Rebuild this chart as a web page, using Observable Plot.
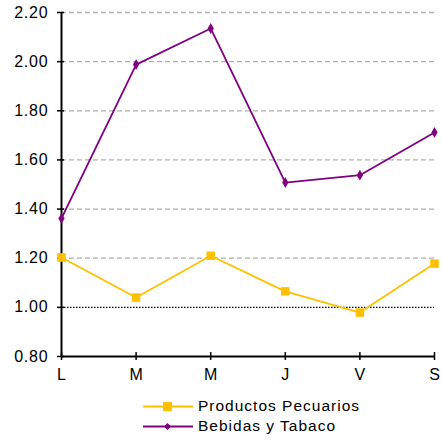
<!DOCTYPE html>
<html>
<head>
<meta charset="utf-8">
<script src="https://cdn.jsdelivr.net/npm/d3@7"></script>
<script src="https://cdn.jsdelivr.net/npm/@observablehq/plot@0.6"></script>
<style>
  html, body { margin: 0; padding: 0; background: #fff; }
  body { width: 442px; font-family: "Liberation Sans", Arial, sans-serif; }
  #legend { margin-top: 11px; padding-left: 143px; font-size: 15.5px; letter-spacing: 1px; color: #000; }
  .item { display: flex; align-items: center; height: 20px; }
  .item svg { margin-right: 5px; }
  #chart svg g[aria-label="y-axis tick label"] text { letter-spacing: 0.8px; }
</style>
</head>
<body>
<div id="chart"></div>
<div id="legend"></div>
<script>
const days = ["L", "M", "M", "J", "V", "S"];
const pecuarios = [1.203, 1.04, 1.21, 1.065, 0.979, 1.178];
const bebidas = [1.362, 1.988, 2.135, 1.508, 1.538, 1.712];
const yTicks = [0.8, 1.0, 1.2, 1.4, 1.6, 1.8, 2.0, 2.2];
const dashedGrid = [1.2, 1.4, 1.6, 1.8, 2.0, 2.2];

const colPec = "#FFC000";
const colBeb = "#800080";

const idx = days.map((d, i) => i);
const dataPec = idx.map(i => ({x: i, y: pecuarios[i]}));
const dataBeb = idx.map(i => ({x: i, y: bebidas[i]}));

const chart = Plot.plot({
  width: 442,
  height: 385,
  marginLeft: 61,
  marginRight: 8,
  marginTop: 12,
  marginBottom: 29,
  style: {fontFamily: "Liberation Sans, Arial, sans-serif", fontSize: "16px", color: "#000", background: "#fff", overflow: "visible"},
  x: {type: "linear", domain: [0, 5]},
  y: {domain: [0.8, 2.2]},
  marks: [
    Plot.ruleY(dashedGrid, {stroke: "#b0b0b0", strokeWidth: 1.3, strokeDasharray: "5,3"}),
    Plot.ruleY([1.0], {stroke: "#000", strokeWidth: 1.2, strokeDasharray: "1.5,1.5"}),
    Plot.axisY({ticks: yTicks, tickFormat: d3.format(".2f"), tickSize: 4, tickPadding: 9, fontSize: 16, stroke: "#000", strokeWidth: 1.5, label: null}),
    Plot.axisX({ticks: idx, tickFormat: i => days[i], tickSize: 4, tickPadding: 8, fontSize: 16, stroke: "#000", strokeWidth: 1.5, label: null}),
    Plot.ruleX(idx, {x: d => d, y1: 0.8, y2: 0.8, insetTop: -4, stroke: "#000", strokeWidth: 1.5}),
    Plot.ruleY(yTicks, {y: d => d, x1: 0, x2: 0, insetRight: -3, stroke: "#000", strokeWidth: 1.5}),
    Plot.ruleX([0], {stroke: "#000", strokeWidth: 2}),
    Plot.ruleY([0.8], {stroke: "#000", strokeWidth: 2}),
    Plot.line(dataPec, {x: "x", y: "y", stroke: colPec, strokeWidth: 1.8}),
    Plot.dot(dataPec, {x: "x", y: "y", symbol: "square", r: 4.8, fill: colPec, stroke: "none"}),
    Plot.line(dataBeb, {x: "x", y: "y", stroke: colBeb, strokeWidth: 1.8}),
    Plot.dot(dataBeb, {x: "x", y: "y", symbol: "diamond", r: 3.3, fill: colBeb, stroke: "none"})
  ]
});
document.getElementById("chart").appendChild(chart);

const legendItems = [
  {label: "Productos Pecuarios", color: colPec, marker: "square"},
  {label: "Bebidas y Tabaco", color: colBeb, marker: "diamond"}
];
const legend = document.getElementById("legend");
for (const it of legendItems) {
  const div = document.createElement("div");
  div.className = "item";
  const markerSvg = it.marker === "square"
    ? `<rect x="20" y="5" width="9" height="9" fill="${it.color}"/>`
    : `<path d="M24.5 6 L28 9.5 L24.5 13 L21 9.5 Z" fill="${it.color}"/>`;
  div.innerHTML = `<svg width="50" height="19"><line x1="0" x2="50" y1="9.5" y2="9.5" stroke="${it.color}" stroke-width="1.8"/>${markerSvg}</svg><span>${it.label}</span>`;
  legend.appendChild(div);
}
</script>
</body>
</html>
